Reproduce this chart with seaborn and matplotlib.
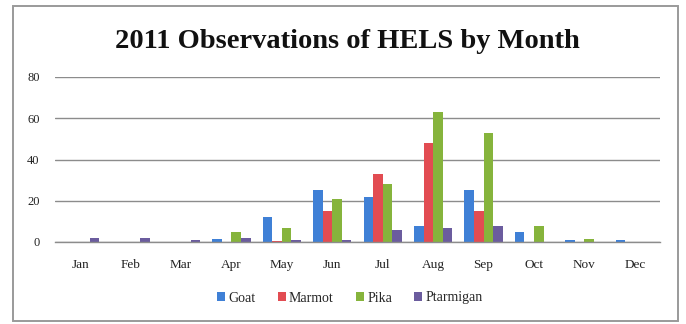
import matplotlib
matplotlib.use("Agg")
import matplotlib.pyplot as plt
import seaborn as sns
import pandas as pd
import numpy as np
from matplotlib.patches import Rectangle

months = ["Jan", "Feb", "Mar", "Apr", "May", "Jun", "Jul", "Aug", "Sep", "Oct", "Nov", "Dec"]
goat = [0, 0, 0, 1.5, 12, 25, 22, 8, 25, 5, 1, 1]
marmot = [0, 0, 0, 0, 0.5, 15, 33, 48, 15, 0, 0, 0]
pika = [0, 0, 0, 5, 7, 21, 28, 63, 53, 8, 1.5, 0]
ptarmigan = [2, 2, 1, 2, 1, 1, 6, 7, 8, 0, 0, 0]
species = ["Goat", "Marmot", "Pika", "Ptarmigan"]
colors = ["#3F80D6", "#E24C52", "#86B43C", "#6B5C9E"]

df = pd.DataFrame({
    "Month": months * 4,
    "Species": [s for s in species for _ in months],
    "Count": goat + marmot + pika + ptarmigan,
})

sns.set_theme(style="white")
plt.rcParams["font.family"] = ["Liberation Serif", "DejaVu Serif"]

fig = plt.figure(figsize=(6.86, 3.24), dpi=100)
fig.patch.set_facecolor("white")
# chart-area frame
fig.add_artist(Rectangle((13 / 686, 1 - 321 / 324), 665 / 686, 315 / 324,
                         transform=fig.transFigure, fill=False,
                         edgecolor="#9a9a9a", linewidth=1.4))

ax = fig.add_axes([55 / 686, 1 - 242 / 324, 605 / 686, 165 / 324])
sns.barplot(data=df, x="Month", y="Count", hue="Species", order=months,
            hue_order=species, palette=colors, width=0.76, ax=ax,
            saturation=1, linewidth=0, legend=True)

ax.set_ylim(0, 80)
ax.set_yticks([0, 20, 40, 60, 80])
ax.set_xlim(-0.5, 11.5)
ax.yaxis.grid(True, color="#8c8c8c", linewidth=1.0)
ax.set_axisbelow(True)
for s in ["left", "right", "top"]:
    ax.spines[s].set_visible(False)
ax.spines["bottom"].set_color("#8c8c8c")
ax.spines["bottom"].set_linewidth(1.0)
ax.set_xlabel("")
ax.set_ylabel("")
ax.tick_params(axis="y", labelsize=9, length=0, pad=11, colors="#222222")
ax.tick_params(axis="x", which="major", labelsize=9.5, length=0, pad=12, colors="#222222")
ax.set_xticks(np.arange(-0.5, 12, 1), minor=True)
ax.tick_params(axis="x", which="minor", length=3, color="#8c8c8c", width=1, direction="out")

fig.text(347 / 686, 1 - 42 / 324, "2011 Observations of HELS by Month", ha="center", va="center",
         fontsize=20.5, fontweight="bold", color="#111111")

handles, labels = ax.get_legend_handles_labels()
ax.legend_.remove()
fig.legend(handles, labels, loc="center", bbox_to_anchor=(350 / 686, 1 - 298 / 324),
           ncol=4, frameon=False, fontsize=10, handlelength=0.55, handleheight=0.55,
           handletextpad=0.25, columnspacing=1.6)

fig.savefig("out.png", dpi=100)
